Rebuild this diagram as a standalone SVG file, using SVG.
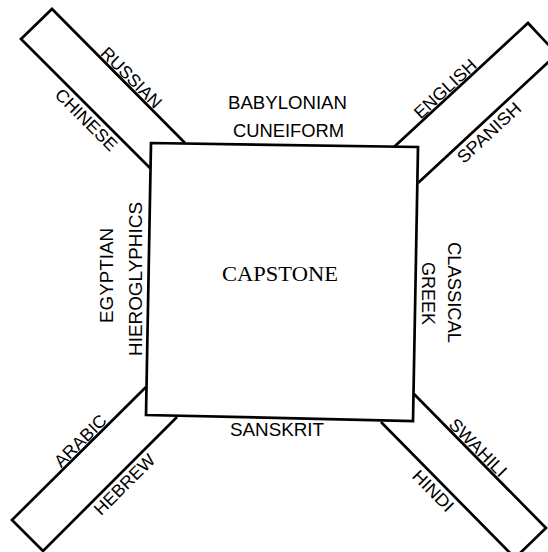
<svg xmlns="http://www.w3.org/2000/svg" width="548" height="552" viewBox="0 0 548 552">
<style>
.ln{fill:none;stroke:#000;stroke-width:2.7;stroke-linejoin:miter}
.sq{fill:#fff;stroke:#000;stroke-width:2.7}
.t{font-family:"Liberation Sans",Arial,sans-serif;font-size:17.5px;fill:#000;text-anchor:middle}
.cap{font-family:"Liberation Serif","Times New Roman",serif;font-size:21px;fill:#000;text-anchor:middle}
</style>
<rect width="548" height="552" fill="#fff"/>
<g id="capstone">
<polygon class="sq" points="151,143 418,147 413,421 146,415"/>
<text class="cap" x="280" y="281" textLength="116" lengthAdjust="spacingAndGlyphs">CAPSTONE</text>
</g>
<g id="side-top">
<text class="t" x="287.5" y="109" textLength="119" lengthAdjust="spacingAndGlyphs">BABYLONIAN</text>
<text class="t" x="288.5" y="137" textLength="111" lengthAdjust="spacingAndGlyphs">CUNEIFORM</text>
</g>
<g id="side-bottom">
<text class="t" x="277" y="436" textLength="94" lengthAdjust="spacingAndGlyphs">SANSKRIT</text>
</g>
<g id="side-left">
<text class="t" transform="translate(113,275.5) rotate(-90)" x="0" y="0" textLength="95" lengthAdjust="spacingAndGlyphs">EGYPTIAN</text>
<text class="t" transform="translate(141.5,279) rotate(-90)" x="0" y="0" textLength="154" lengthAdjust="spacingAndGlyphs">HIEROGLYPHICS</text>
</g>
<g id="side-right">
<text class="t" transform="translate(448,292.5) rotate(90)" x="0" y="0" textLength="101" lengthAdjust="spacingAndGlyphs">CLASSICAL</text>
<text class="t" transform="translate(422,293.5) rotate(90)" x="0" y="0" textLength="63" lengthAdjust="spacingAndGlyphs">GREEK</text>
</g>
<g id="bar-top-left">
<polyline class="ln" points="185,143 52,9 21,39 150,168"/>
<text class="t" transform="translate(125.7,83.3) rotate(45)" x="0" y="-2" textLength="78" lengthAdjust="spacingAndGlyphs">RUSSIAN</text>
<text class="t" transform="translate(94,112) rotate(45)" x="0" y="17" textLength="80" lengthAdjust="spacingAndGlyphs">CHINESE</text>
</g>
<g id="bar-top-right">
<polyline class="ln" points="394,147 528,23 557,54 418,183"/>
<text class="t" transform="translate(450.6,94.6) rotate(-42.8)" x="0" y="-2" textLength="78" lengthAdjust="spacingAndGlyphs">ENGLISH</text>
<text class="t" transform="translate(481.6,124.5) rotate(-42.8)" x="0" y="17" textLength="80" lengthAdjust="spacingAndGlyphs">SPANISH</text>
</g>
<g id="bar-bottom-left">
<polyline class="ln" points="146,387 12,520 43,551 177,417"/>
<text class="t" transform="translate(86,446.5) rotate(-45)" x="0" y="-2" textLength="66" lengthAdjust="spacingAndGlyphs">ARABIC</text>
<text class="t" transform="translate(117,477) rotate(-45)" x="0" y="16.5" textLength="78" lengthAdjust="spacingAndGlyphs">HEBREW</text>
</g>
<g id="bar-bottom-right">
<polyline class="ln" points="414,394 546,528 515,558 381,422"/>
<text class="t" transform="translate(472.3,453.2) rotate(45.4)" x="0" y="-2" textLength="74" lengthAdjust="spacingAndGlyphs">SWAHILI</text>
<text class="t" transform="translate(440.9,483.1) rotate(45.4)" x="0" y="17" textLength="51" lengthAdjust="spacingAndGlyphs">HINDI</text>
</g>
</svg>
